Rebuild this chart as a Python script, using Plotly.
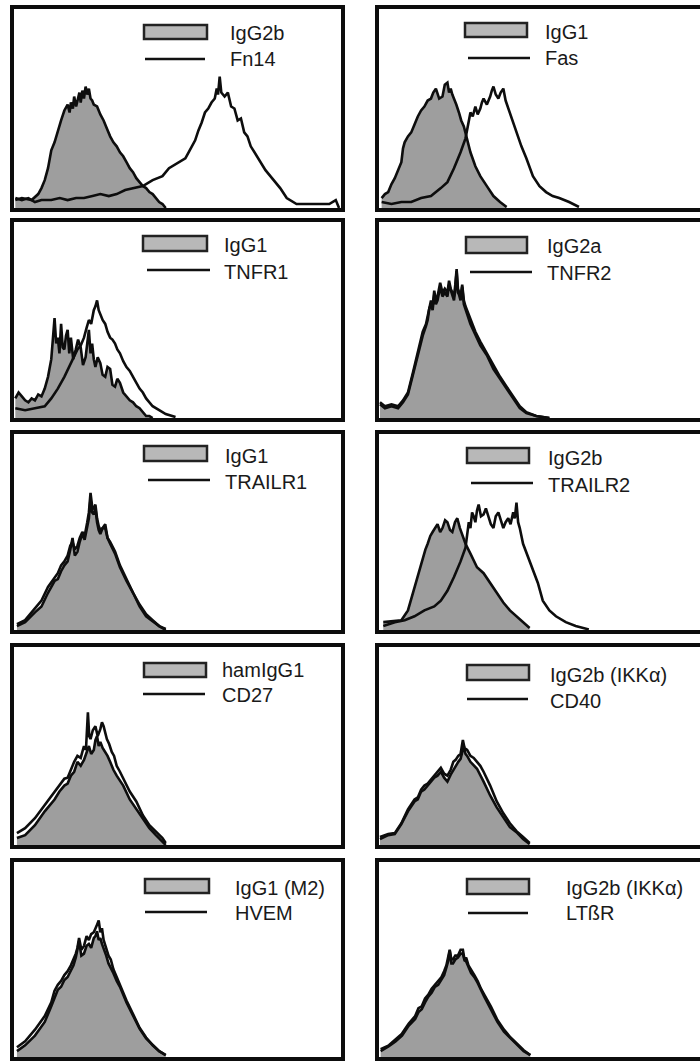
import plotly.graph_objects as go

# ---------------- data (x: fluorescence channel 0-1000, y: relative count 0-100) -------------
P1_ISO_X = [4, 24, 54, 74, 84, 94, 104, 114, 124, 134, 144, 154, 164, 170, 174, 180, 184, 190, 194, 200, 204, 209, 214, 219, 224, 229, 234, 239, 244, 254, 264, 274, 284, 294, 304, 314, 324, 334, 344, 354, 364, 374, 384, 394, 404, 414, 424, 434, 444, 454, 464]
P1_ISO_Y = [4, 5, 4, 7, 10, 14, 20, 29, 33, 39, 44, 49, 52, 48, 53, 50, 56, 51, 54, 58, 53, 59, 55, 61, 57, 60, 55, 54, 52, 51, 47, 44, 40, 36, 33, 31, 28, 26, 23, 20, 18, 15, 13, 11, 10, 8, 7, 5, 3, 2, 0]
P1_AB_X = [4, 24, 44, 64, 84, 114, 140, 164, 190, 214, 240, 264, 290, 314, 340, 364, 394, 424, 440, 454, 474, 494, 510, 524, 534, 544, 554, 564, 574, 584, 594, 604, 614, 620, 624, 629, 634, 644, 654, 664, 674, 684, 694, 704, 714, 724, 739, 754, 769, 784, 799, 814, 834, 864, 914, 964, 984, 994]
P1_AB_Y = [5, 4, 5, 3, 4, 4, 5, 4, 5, 5, 6, 7, 6, 7, 9, 10, 11, 14, 15, 16, 20, 22, 24, 25, 28, 31, 34, 39, 43, 48, 50, 53, 55, 60, 57, 66, 58, 56, 58, 51, 50, 44, 45, 38, 36, 31, 27, 23, 19, 16, 13, 10, 5, 2, 2, 2, 4, 0]

P2_ISO_X = [8, 18, 28, 38, 48, 58, 68, 73, 78, 88, 98, 108, 118, 128, 138, 148, 158, 165, 173, 183, 193, 200, 208, 213, 218, 223, 228, 235, 243, 250, 258, 268, 278, 293, 308, 328, 348, 368, 388]
P2_ISO_Y = [5, 7, 8, 12, 15, 19, 23, 30, 33, 36, 38, 42, 46, 49, 51, 54, 55, 58, 60, 55, 56, 62, 63, 58, 60, 57, 55, 52, 48, 44, 41, 35, 28, 21, 16, 11, 6, 3, 0.5]
P2_AB_X = [8, 38, 68, 98, 128, 158, 188, 208, 228, 248, 263, 270, 278, 285, 293, 300, 308, 313, 318, 328, 338, 343, 348, 355, 363, 370, 378, 385, 393, 400, 408, 418, 433, 448, 458, 468, 488, 508, 528, 548, 578, 608]
P2_AB_Y = [3, 2, 3, 3, 5, 6, 10, 13, 20, 28, 35, 42, 48, 46, 51, 47, 50, 53, 55, 52, 56, 59, 61, 57, 55, 58, 60, 54, 50, 47, 43, 38, 31, 25, 20, 16, 11, 8, 6, 5, 3, 0.5]

P3_ISO_X = [4, 14, 24, 34, 44, 54, 64, 74, 84, 94, 104, 114, 124, 129, 134, 139, 144, 149, 154, 159, 164, 169, 174, 181, 189, 196, 204, 211, 219, 224, 229, 234, 239, 244, 249, 256, 264, 271, 279, 286, 294, 301, 309, 316, 324, 334, 344, 354, 364, 374, 384, 394, 404, 414, 424]
P3_ISO_Y = [10, 13, 11, 9, 8, 10, 9, 12, 11, 15, 21, 30, 51, 38, 41, 33, 48, 36, 35, 42, 45, 33, 41, 30, 35, 40, 36, 27, 31, 38, 45, 33, 38, 30, 26, 31, 28, 22, 21, 26, 25, 17, 16, 20, 18, 13, 11, 9, 8, 6, 5, 3, 1, 1, 0]
P3_AB_X = [4, 34, 64, 94, 114, 134, 154, 174, 194, 204, 214, 222, 229, 236, 244, 249, 254, 259, 264, 271, 279, 286, 294, 301, 309, 316, 324, 334, 344, 354, 364, 374, 384, 394, 404, 424, 444, 464, 494]
P3_AB_Y = [5, 4, 5, 6, 10, 15, 21, 28, 35, 37, 41, 46, 50, 48, 55, 57, 60, 55, 53, 50, 48, 44, 41, 40, 38, 35, 33, 29, 26, 24, 21, 18, 15, 13, 10, 6, 4, 2, 0.5]

P4_ISO_X = [3, 18, 38, 58, 73, 88, 103, 118, 133, 143, 148, 153, 158, 163, 168, 173, 178, 186, 193, 200, 208, 213, 218, 223, 228, 232, 236, 240, 243, 248, 253, 258, 263, 270, 278, 293, 308, 328, 348, 368, 388, 408, 428, 448, 478, 518]
P4_ISO_Y = [7, 5, 6, 5, 8, 12, 22, 32, 42, 47, 50, 56, 58, 55, 63, 58, 60, 67, 62, 64, 62, 68, 65, 62, 60, 66, 75, 64, 63, 60, 67, 58, 55, 52, 48, 42, 37, 32, 25, 20, 15, 10, 5, 2.5, 1, 0]
P4_AB_X = [3, 18, 38, 58, 73, 88, 103, 118, 133, 143, 148, 153, 158, 163, 168, 173, 178, 186, 193, 200, 208, 213, 218, 223, 228, 232, 236, 240, 243, 248, 253, 258, 263, 270, 278, 293, 308, 328, 348, 368, 388, 408, 428, 448, 478, 518]
P4_AB_Y = [8, 6, 7, 6, 9, 13, 23, 34, 44, 48, 52, 57, 60, 57, 65, 60, 62, 69, 64, 66, 64, 70, 66, 64, 62, 68, 76, 66, 64, 62, 68, 60, 57, 54, 50, 44, 39, 33, 27, 21, 16, 11, 6, 3, 1, 0]

P5_ISO_X = [9, 34, 64, 84, 104, 124, 134, 144, 154, 164, 172, 179, 186, 194, 201, 209, 216, 224, 229, 234, 239, 244, 249, 254, 259, 264, 271, 279, 286, 294, 309, 324, 344, 364, 384, 404, 424, 444, 464]
P5_ISO_Y = [2, 4, 9, 12, 19, 25, 26, 30, 33, 35, 41, 47, 38, 40, 45, 49, 46, 52, 57, 67, 60, 59, 62, 55, 51, 49, 52, 54, 47, 44, 39, 32, 25, 19, 12, 7, 4.5, 2, 0]
P5_AB_X = [9, 34, 64, 84, 104, 124, 134, 144, 154, 164, 172, 179, 186, 194, 201, 209, 216, 224, 229, 234, 239, 244, 249, 254, 259, 264, 271, 279, 286, 294, 309, 324, 344, 364, 384, 404, 424, 444, 464]
P5_AB_Y = [3, 5, 11, 15, 22, 27, 29, 33, 35, 38, 43, 45, 41, 43, 47, 50, 48, 55, 60, 70, 63, 62, 64, 57, 53, 51, 52, 52, 47, 45, 40, 33, 26, 19, 13, 8, 5, 2, 0.5]

P6_ISO_X = [13, 38, 68, 88, 103, 118, 126, 133, 141, 148, 156, 163, 171, 178, 186, 193, 201, 208, 216, 223, 231, 238, 246, 253, 263, 278, 298, 318, 338, 358, 378, 398, 418, 438, 458]
P6_ISO_Y = [4, 4.5, 5, 10, 19, 27, 33, 37, 41, 44, 48, 50, 52, 54, 50, 52, 56, 55, 51, 50, 55, 57, 52, 49, 44, 39, 32, 29, 24, 19, 14, 10, 7, 4, 1]
P6_AB_X = [13, 48, 78, 108, 138, 168, 188, 208, 228, 248, 263, 268, 273, 278, 283, 288, 293, 298, 303, 310, 318, 325, 333, 340, 348, 355, 363, 370, 378, 385, 393, 400, 408, 413, 418, 423, 428, 438, 453, 468, 483, 498, 518, 538, 568, 598, 638]
P6_AB_Y = [2, 4, 5, 7, 10, 12, 15, 20, 27, 35, 42, 50, 55, 52, 60, 58, 55, 61, 64, 58, 59, 62, 57, 54, 52, 58, 60, 56, 52, 55, 57, 54, 60, 57, 65, 55, 52, 44, 37, 30, 24, 15, 10, 7, 4, 2, 0.3]

P7_ISO_X = [9, 34, 64, 94, 124, 139, 154, 164, 174, 184, 194, 204, 214, 222, 229, 236, 244, 249, 254, 259, 264, 271, 279, 286, 294, 304, 314, 334, 354, 374, 394, 414, 434, 454, 464]
P7_ISO_Y = [3.5, 5, 10, 17, 23, 27, 30, 31, 35, 37, 42, 40, 43, 47, 50, 46, 48, 53, 55, 50, 52, 49, 47, 45, 42, 38, 35, 30, 23, 18, 13, 8.5, 5, 2, 0]
P7_AB_X = [9, 34, 64, 94, 124, 154, 164, 174, 184, 194, 204, 214, 220, 226, 230, 234, 241, 249, 256, 264, 269, 274, 279, 284, 291, 299, 306, 314, 324, 334, 354, 374, 394, 414, 434, 454, 464]
P7_AB_Y = [6, 8.5, 13.5, 20, 27, 33.5, 34, 38.5, 42, 45, 44, 50, 48, 67, 55, 53.5, 58, 60, 55, 58.5, 62, 60, 56, 53.5, 51, 47, 45, 40, 37, 33.5, 27, 22, 15, 10, 7, 3.5, 1]

P8_ISO_X = [3, 28, 48, 68, 88, 108, 118, 128, 138, 148, 158, 168, 178, 188, 198, 208, 218, 226, 233, 241, 248, 254, 258, 263, 268, 278, 288, 298, 318, 338, 358, 378, 398, 418, 438, 458]
P8_ISO_Y = [3, 5, 5.5, 10.5, 17, 22, 23, 27, 28, 30, 32, 34, 35, 37, 34, 32, 35.5, 38, 40, 42, 43.5, 48, 50, 46, 45, 42, 40, 38.5, 32, 25, 19, 14, 9, 6.5, 3, 0.5]
P8_AB_X = [3, 28, 48, 68, 88, 108, 118, 128, 138, 148, 158, 168, 178, 188, 198, 208, 218, 226, 233, 241, 248, 252, 255, 260, 268, 278, 288, 298, 308, 318, 338, 358, 378, 398, 418, 438, 458]
P8_AB_Y = [4, 5.5, 6, 11, 18, 23, 24, 28, 30, 31, 33, 35, 37, 39, 36, 35, 38, 42, 43, 45, 46, 51, 53, 49, 48, 45, 44, 42, 40, 37, 30, 22, 16, 11, 7, 4, 1]

P9_ISO_X = [9, 34, 64, 94, 114, 124, 134, 144, 154, 164, 174, 182, 189, 194, 199, 206, 214, 222, 229, 236, 244, 249, 254, 259, 264, 269, 274, 282, 289, 296, 304, 314, 324, 344, 364, 384, 404, 424, 444, 464]
P9_ISO_Y = [3, 6, 11, 18, 26, 30, 34.5, 36, 39.5, 41, 44.5, 47, 51, 55, 59.5, 52, 53, 57, 58, 56, 61, 62, 64.5, 60, 61, 58, 56, 52, 48, 46, 43, 39, 36, 28, 21, 14.5, 9.5, 6, 3, 1]
P9_AB_X = [9, 34, 64, 94, 114, 124, 134, 144, 154, 164, 174, 182, 189, 194, 199, 206, 214, 222, 229, 236, 244, 252, 259, 264, 269, 274, 282, 289, 296, 304, 314, 324, 344, 364, 384, 404, 424, 444, 464]
P9_AB_Y = [5, 8, 14, 21, 28, 34, 37, 39, 42, 44, 47, 50, 53, 56, 61, 55, 57, 62, 60, 63, 64, 67, 70, 64, 66, 60, 56, 52, 50, 45, 41, 37, 29, 22, 15, 10, 6, 3, 1]

P10_ISO_X = [5, 30, 50, 70, 90, 110, 120, 130, 140, 150, 160, 170, 180, 190, 198, 205, 210, 215, 220, 225, 232, 240, 248, 255, 260, 265, 272, 280, 290, 300, 320, 340, 360, 380, 400, 420, 440, 460]
P10_ISO_Y = [3, 5.5, 8, 11, 16, 19.5, 23, 24.5, 28, 31, 33, 36, 37, 39.5, 42, 46, 49, 54.5, 48, 48, 50, 51, 53, 53, 49.5, 49, 46, 43, 41, 38, 31, 24.5, 18, 13, 9.5, 6, 3, 1]
P10_AB_X = [5, 30, 50, 70, 90, 110, 120, 130, 140, 150, 160, 170, 180, 190, 198, 205, 210, 215, 220, 225, 232, 240, 248, 255, 260, 265, 272, 280, 290, 300, 310, 320, 340, 360, 380, 400, 420, 440, 460]
P10_AB_Y = [4, 6, 9, 12, 17, 21, 25, 26, 30, 32, 35, 37, 39, 41, 44, 47, 51, 55, 50, 50, 52, 52, 55, 55, 50, 51, 47, 45, 42, 39, 35, 32, 26, 19, 14, 10, 6.5, 3.5, 1]

ISO_LABELS = ["IgG2b", "IgG1", "IgG1", "IgG2a", "IgG1", "IgG2b", "hamIgG1", "IgG2b (IKKα)", "IgG1 (M2)", "IgG2b (IKKα)"]
AB_LABELS = ["Fn14", "Fas", "TNFR1", "TNFR2", "TRAILR1", "TRAILR2", "CD27", "CD40", "HVEM", "LTßR"]

ISO_X = [P1_ISO_X, P2_ISO_X, P3_ISO_X, P4_ISO_X, P5_ISO_X, P6_ISO_X, P7_ISO_X, P8_ISO_X, P9_ISO_X, P10_ISO_X]
ISO_Y = [P1_ISO_Y, P2_ISO_Y, P3_ISO_Y, P4_ISO_Y, P5_ISO_Y, P6_ISO_Y, P7_ISO_Y, P8_ISO_Y, P9_ISO_Y, P10_ISO_Y]
AB_X = [P1_AB_X, P2_AB_X, P3_AB_X, P4_AB_X, P5_AB_X, P6_AB_X, P7_AB_X, P8_AB_X, P9_AB_X, P10_AB_X]
AB_Y = [P1_AB_Y, P2_AB_Y, P3_AB_Y, P4_AB_Y, P5_AB_Y, P6_AB_Y, P7_AB_Y, P8_AB_Y, P9_AB_Y, P10_AB_Y]

# ---------------- layout (pixel geometry) ----------------
W, H = 700, 1061
COL_X = [(14, 341), (379, 700)]
COL_XMAX = [1000, 976]
ROW_Y = [(9, 208), (222, 418), (434, 630), (647, 845), (862, 1057)]

# legend geometry per panel: box x0,x1,y0,y1 ; line x0,x1,y ; text x ; text y1,y2
LEG = [
    (144, 207, 25, 39, 145, 205, 59, 228, 33, 59),
    (465, 527, 23, 37, 468, 530, 58, 543, 32, 58),
    (143, 207, 236, 251, 147, 210, 270, 222, 245, 272),
    (466, 527, 237, 253, 470, 532, 272, 545, 246, 273),
    (144, 207, 446, 461, 148, 210, 480, 223, 456, 482),
    (467, 529, 448, 463, 471, 533, 483, 546, 458, 485),
    (144, 206, 663, 677, 143, 205, 694, 220, 670, 695),
    (467, 529, 665, 680, 467, 528, 699, 548, 675, 701),
    (145, 209, 879, 893, 145, 207, 912, 233, 888, 913),
    (467, 529, 879, 894, 468, 528, 913, 564, 888, 913),
]

def px(x):
    return x / W

def py(y):
    return 1 - y / H

FILL = "#9e9e9e"
LINE = "#0d0d0d"
FONT = "Liberation Sans, Arial, sans-serif"

fig = go.Figure()
layout = {}
shapes = []
annots = []

for i in range(10):
    row, col = i // 2, i % 2
    ax = "" if i == 0 else str(i + 1)
    xa, ya = "x" + ax, "y" + ax
    fig.add_trace(go.Scatter(x=ISO_X[i], y=ISO_Y[i], mode="lines", fill="tozeroy",
                             fillcolor=FILL, line=dict(color=LINE, width=2.6),
                             xaxis=xa, yaxis=ya, showlegend=False, hoverinfo="skip"))
    fig.add_trace(go.Scatter(x=AB_X[i], y=AB_Y[i], mode="lines",
                             line=dict(color=LINE, width=2.6),
                             xaxis=xa, yaxis=ya, showlegend=False, hoverinfo="skip"))
    x0, x1 = COL_X[col]
    y0, y1 = ROW_Y[row]
    layout["xaxis" + ax] = dict(domain=[px(x0), px(x1)], range=[0, COL_XMAX[col]],
                                anchor=ya, showline=True, mirror=True, linewidth=3.5,
                                linecolor=LINE, showgrid=False, zeroline=False,
                                showticklabels=False, ticks="", fixedrange=True)
    layout["yaxis" + ax] = dict(domain=[py(y1), py(y0)], range=[0, 100],
                                anchor=xa, showline=True, mirror=(col == 0), linewidth=3.5,
                                linecolor=LINE, showgrid=False, zeroline=False,
                                showticklabels=False, ticks="", fixedrange=True)
    bx0, bx1, by0, by1, lx0, lx1, ly, tx, ty1, ty2 = LEG[i]
    shapes.append(dict(type="rect", xref="paper", yref="paper",
                       x0=px(bx0), x1=px(bx1), y0=py(by1), y1=py(by0),
                       fillcolor="#b8b8b8", line=dict(color="#222", width=2.5)))
    shapes.append(dict(type="line", xref="paper", yref="paper",
                       x0=px(lx0), x1=px(lx1), y0=py(ly), y1=py(ly),
                       line=dict(color="#111", width=2.5)))
    annots.append(dict(x=px(tx), y=py(ty1), xref="paper", yref="paper", text=ISO_LABELS[i],
                       showarrow=False, xanchor="left", yanchor="middle",
                       font=dict(family=FONT, size=20, color="#1a1a1a")))
    annots.append(dict(x=px(tx), y=py(ty2), xref="paper", yref="paper", text=AB_LABELS[i],
                       showarrow=False, xanchor="left", yanchor="middle",
                       font=dict(family=FONT, size=20, color="#1a1a1a")))

fig.update_layout(width=W, height=H, margin=dict(l=0, r=0, t=0, b=0),
                  paper_bgcolor="white", plot_bgcolor="white",
                  shapes=shapes, annotations=annots, **layout)

fig.write_html("out.html", config={"displayModeBar": False},
               post_script="document.body.style.margin='0';document.body.style.overflow='hidden';")
